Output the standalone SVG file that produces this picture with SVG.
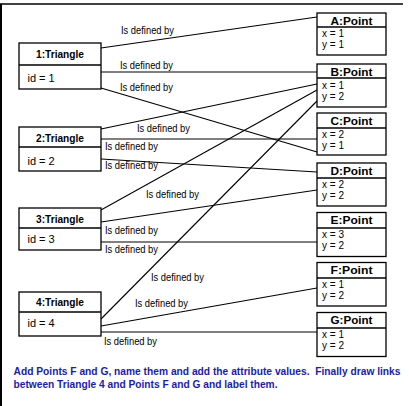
<svg xmlns="http://www.w3.org/2000/svg" width="409" height="406" viewBox="0 0 409 406">
<style>
.box{fill:#fff;stroke:#000;stroke-width:1.3}
.div{stroke:#000;stroke-width:1.3}
.ttl{font-family:"Liberation Sans",Arial,sans-serif;font-weight:bold;font-size:11px;fill:#000;text-anchor:middle}
.att{font-family:"Liberation Sans",Arial,sans-serif;font-size:10px;fill:#000}
.idt{font-family:"Liberation Sans",Arial,sans-serif;font-size:11px;fill:#000}
.lbl{font-family:"Liberation Sans",Arial,sans-serif;font-size:10px;fill:#000}
.con line{stroke:#000;stroke-width:1.1}
.note{font-family:"Liberation Sans",Arial,sans-serif;font-weight:bold;font-size:10.2px;fill:#1c1ca6}
</style>
<rect x="0" y="0" width="409" height="406" fill="#fff"/>
<path d="M1,406 V4" stroke="#000" stroke-width="2" fill="none"/>
<path d="M0,4 H403" stroke="#000" stroke-width="1.3" fill="none"/>

<g id="connectors" class="con">
<line x1="101" y1="48" x2="317" y2="17"/>
<line x1="101" y1="72" x2="317" y2="72"/>
<line x1="101" y1="88" x2="317" y2="152"/>
<line x1="101" y1="129" x2="317" y2="84"/>
<line x1="101" y1="139" x2="317" y2="139"/>
<line x1="101" y1="159" x2="317" y2="172"/>
<line x1="101" y1="210" x2="317" y2="90"/>
<line x1="101" y1="222" x2="317" y2="190"/>
<line x1="101" y1="242" x2="317" y2="242"/>
<line x1="101" y1="319" x2="317" y2="101"/>
<line x1="101" y1="326" x2="317" y2="288"/>
<line x1="101" y1="332" x2="317" y2="332"/>
</g>

<g id="labels">
<text class="lbl" x="121" y="34" textLength="53" lengthAdjust="spacingAndGlyphs">Is defined by</text>
<text class="lbl" x="120" y="69" textLength="53" lengthAdjust="spacingAndGlyphs">Is defined by</text>
<text class="lbl" x="120" y="91" textLength="53" lengthAdjust="spacingAndGlyphs">Is defined by</text>
<text class="lbl" x="137" y="132" textLength="53" lengthAdjust="spacingAndGlyphs">Is defined by</text>
<text class="lbl" x="105" y="150" textLength="53" lengthAdjust="spacingAndGlyphs">Is defined by</text>
<text class="lbl" x="105" y="169" textLength="53" lengthAdjust="spacingAndGlyphs">Is defined by</text>
<text class="lbl" x="146" y="198" textLength="53" lengthAdjust="spacingAndGlyphs">Is defined by</text>
<text class="lbl" x="105" y="234" textLength="53" lengthAdjust="spacingAndGlyphs">Is defined by</text>
<text class="lbl" x="105" y="253" textLength="53" lengthAdjust="spacingAndGlyphs">Is defined by</text>
<text class="lbl" x="151" y="281" textLength="53" lengthAdjust="spacingAndGlyphs">Is defined by</text>
<text class="lbl" x="135" y="307" textLength="53" lengthAdjust="spacingAndGlyphs">Is defined by</text>
<text class="lbl" x="104" y="345" textLength="53" lengthAdjust="spacingAndGlyphs">Is defined by</text>
</g>

<g id="triangle1">
<rect class="box" x="19" y="43" width="82" height="46"/>
<line class="div" x1="19" y1="65" x2="101" y2="65"/>
<text class="ttl" x="60" y="58" textLength="48" lengthAdjust="spacingAndGlyphs">1:Triangle</text>
<text class="idt" x="27.5" y="82">id = 1</text>
</g>
<g id="triangle2">
<rect class="box" x="19" y="127" width="82" height="44"/>
<line class="div" x1="19" y1="147" x2="101" y2="147"/>
<text class="ttl" x="60" y="142" textLength="48" lengthAdjust="spacingAndGlyphs">2:Triangle</text>
<text class="idt" x="27.5" y="164.5">id = 2</text>
</g>
<g id="triangle3">
<rect class="box" x="19" y="208" width="82" height="42"/>
<line class="div" x1="19" y1="228" x2="101" y2="228"/>
<text class="ttl" x="60" y="223" textLength="48" lengthAdjust="spacingAndGlyphs">3:Triangle</text>
<text class="idt" x="27.5" y="242.5">id = 3</text>
</g>
<g id="triangle4">
<rect class="box" x="19" y="292" width="82" height="44"/>
<line class="div" x1="19" y1="312" x2="101" y2="312"/>
<text class="ttl" x="60" y="306" textLength="48" lengthAdjust="spacingAndGlyphs">4:Triangle</text>
<text class="idt" x="27.5" y="327">id = 4</text>
</g>

<g id="pointA">
<rect class="box" x="317" y="13" width="69" height="42"/>
<line class="div" x1="317" y1="27" x2="386" y2="27"/>
<text class="ttl" x="351.5" y="24.5" textLength="42" lengthAdjust="spacingAndGlyphs">A:Point</text>
<text class="att" x="322" y="37">x = 1</text>
<text class="att" x="322" y="48">y = 1</text>
</g>
<g id="pointB">
<rect class="box" x="317" y="64" width="69" height="43"/>
<line class="div" x1="317" y1="78" x2="386" y2="78"/>
<text class="ttl" x="351.5" y="75.5" textLength="42" lengthAdjust="spacingAndGlyphs">B:Point</text>
<text class="att" x="322" y="88.5">x = 1</text>
<text class="att" x="322" y="99.5">y = 2</text>
</g>
<g id="pointC">
<rect class="box" x="317" y="113" width="69" height="42"/>
<line class="div" x1="317" y1="128" x2="386" y2="128"/>
<text class="ttl" x="351.5" y="124.5" textLength="42" lengthAdjust="spacingAndGlyphs">C:Point</text>
<text class="att" x="322" y="138">x = 2</text>
<text class="att" x="322" y="149">y = 1</text>
</g>
<g id="pointD">
<rect class="box" x="317" y="163" width="69" height="43"/>
<line class="div" x1="317" y1="178" x2="386" y2="178"/>
<text class="ttl" x="351.5" y="174.5" textLength="42" lengthAdjust="spacingAndGlyphs">D:Point</text>
<text class="att" x="322" y="188">x = 2</text>
<text class="att" x="322" y="199">y = 2</text>
</g>
<g id="pointE">
<rect class="box" x="317" y="212.5" width="69" height="44"/>
<line class="div" x1="317" y1="228" x2="386" y2="228"/>
<text class="ttl" x="351.5" y="224" textLength="42" lengthAdjust="spacingAndGlyphs">E:Point</text>
<text class="att" x="322" y="238">x = 3</text>
<text class="att" x="322" y="249">y = 2</text>
</g>
<g id="pointF">
<rect class="box" x="317" y="262.5" width="69" height="43.5"/>
<line class="div" x1="317" y1="278" x2="386" y2="278"/>
<text class="ttl" x="351.5" y="274" textLength="42" lengthAdjust="spacingAndGlyphs">F:Point</text>
<text class="att" x="322" y="288">x = 1</text>
<text class="att" x="322" y="299">y = 2</text>
</g>
<g id="pointG">
<rect class="box" x="317" y="312.5" width="69" height="44"/>
<line class="div" x1="317" y1="328" x2="386" y2="328"/>
<text class="ttl" x="351.5" y="324" textLength="42" lengthAdjust="spacingAndGlyphs">G:Point</text>
<text class="att" x="322" y="338">x = 1</text>
<text class="att" x="322" y="349">y = 2</text>
</g>

<g id="note">
<text class="note" x="13.5" y="375" xml:space="preserve" textLength="387" lengthAdjust="spacingAndGlyphs">Add Points F and G, name them and add the attribute values.  Finally draw links</text>
<text class="note" x="13.5" y="387.5" textLength="264" lengthAdjust="spacingAndGlyphs">between Triangle 4 and Points F and G and label them.</text>
</g>
</svg>
